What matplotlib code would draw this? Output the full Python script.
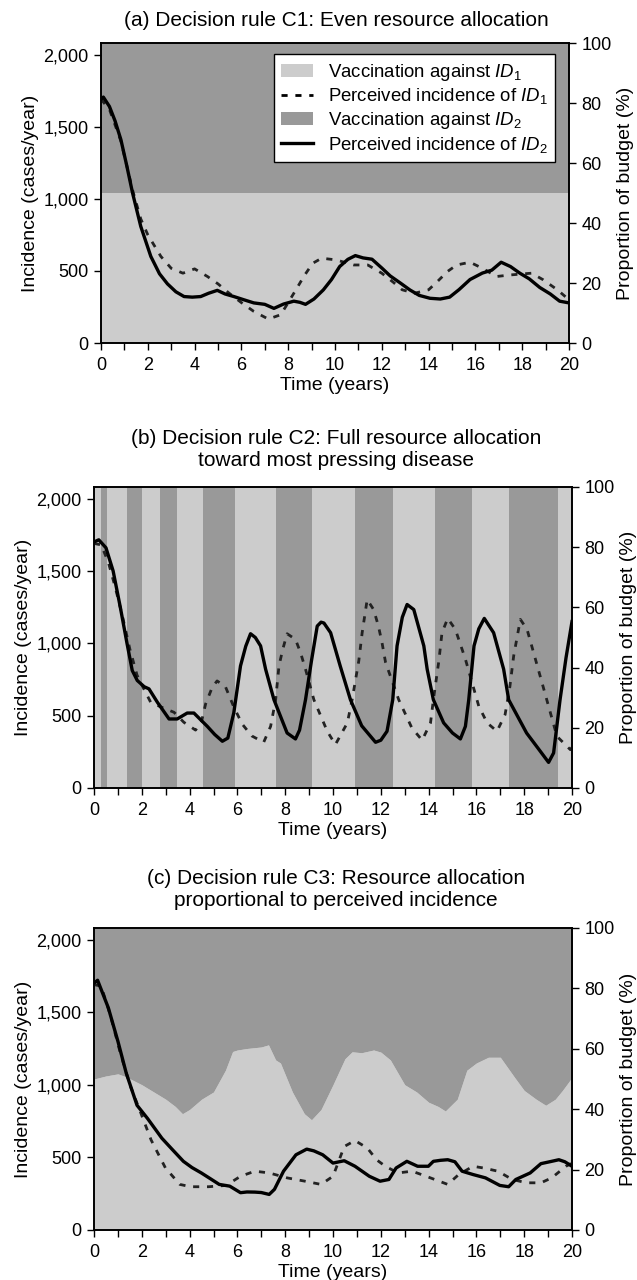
import matplotlib
matplotlib.use("Agg")
import matplotlib.pyplot as plt
from matplotlib.patches import Patch
from matplotlib.lines import Line2D
from matplotlib.ticker import FuncFormatter, MultipleLocator

plt.rcParams['font.family'] = ['Liberation Sans', 'DejaVu Sans']
plt.rcParams['mathtext.fontset'] = 'custom'
plt.rcParams['mathtext.rm'] = 'Liberation Sans'
plt.rcParams['mathtext.it'] = 'Liberation Sans:italic'

LIGHT = '#cccccc'
DARK = '#999999'

# ---------------- Panel (a) ----------------
a_t_id2 = [0, 0.1, 0.36, 0.6, 0.85, 1.1, 1.35, 1.7, 2.13, 2.5, 2.84, 3.2, 3.55, 3.9, 4.26, 4.6, 4.97,
           5.3, 5.68, 6.1, 6.53, 7.0, 7.39, 7.8, 8.24, 8.5, 8.74, 9.1, 9.5, 9.85, 10.2, 10.55, 10.87,
           11.2, 11.58, 12.0, 12.36, 12.8, 13.2, 13.6, 14.06, 14.5, 14.9, 15.3, 15.77, 16.3, 16.7,
           17.1, 17.5, 17.9, 18.3, 18.75, 19.2, 19.6, 20]
a_id2 = [1690, 1705, 1640, 1540, 1410, 1230, 1039, 808, 600, 480, 410, 355, 322, 318, 322, 345, 365,
         340, 322, 300, 278, 268, 240, 270, 290, 282, 268, 305, 368, 440, 530, 580, 606,
         590, 581, 520, 465, 415, 368, 330, 310, 305, 318, 370, 440, 485, 505,
         560, 530, 484, 445, 385, 340, 290, 278]
a_t_id1 = [0, 0.36, 0.85, 1.35, 1.7, 2.0, 2.56, 3.0, 3.5, 4.0, 4.55, 5.0, 5.47, 6.0, 6.53, 7.15, 7.68,
           8.0, 8.37, 8.7, 9.05, 9.43, 10.05, 10.8, 11.4, 12.0, 12.5, 12.87, 13.4, 14.0, 14.4, 14.8,
           15.2, 15.77, 16.3, 16.9, 17.5, 18.4, 18.9, 19.5, 20]
a_id1 = [1690, 1620, 1400, 1060, 860, 750, 600, 518, 484, 514, 461, 410, 346, 280, 219, 166, 196,
         280, 380, 470, 553, 588, 576, 541, 541, 484, 420, 369, 345, 369, 430, 495,
         541, 560, 518, 461, 472, 484, 438, 369, 300]
a_alloc_t = [0, 20]
a_alloc_id1 = [50, 50]   # % of budget to ID1

# ---------------- Panel (b) ----------------
b_t_id2 = [0, 0.2, 0.5, 0.8, 1.1, 1.38, 1.6, 1.81, 2.1, 2.3, 2.65, 3.14, 3.48, 3.9, 4.18, 4.74, 5.05,
           5.37, 5.6, 5.85, 6.13, 6.35, 6.55, 6.75, 6.97, 7.18, 7.53, 8.08, 8.43, 8.6, 8.85, 9.1,
           9.34, 9.5, 9.62, 9.9, 10.3, 10.73, 11.2, 11.78, 12.0, 12.26, 12.5, 12.68, 12.9, 13.1,
           13.38, 13.8, 13.94, 14.2, 14.63, 15.0, 15.33, 15.54, 15.68, 15.9, 16.1, 16.33, 16.72,
           17.14, 17.35, 18.1, 18.6, 19.02, 19.23, 19.5, 19.75, 20]
b_id2 = [1700, 1715, 1660, 1500, 1250, 1000, 812, 743, 700, 685, 593, 477, 477, 518, 518, 426, 370,
         323, 345, 520, 844, 980, 1066, 1040, 982, 821, 610, 380, 339, 400, 610, 880,
         1119, 1146, 1140, 1073, 844, 610, 430, 316, 330, 392, 610, 982, 1180, 1268,
         1233, 982, 821, 610, 450, 380, 339, 426, 610, 982, 1100, 1172, 1073,
         821, 610, 380, 270, 177, 242, 610, 900, 1150]
b_t_id1 = [0, 0.3, 0.6, 0.9, 1.2, 1.5, 1.8, 2.1, 2.37, 2.8, 3.35, 3.76, 4.25, 4.5, 4.67, 4.95, 5.15,
           5.5, 5.85, 6.2, 6.6, 7.1, 7.39, 7.6, 7.74, 7.9, 8.08, 8.43, 8.64, 8.85, 9.2, 9.76, 10.1,
           10.6, 10.8, 11.08, 11.22, 11.43, 11.7, 11.9, 12.05, 12.2, 12.75, 13.3, 13.73, 14.08,
           14.2, 14.43, 14.56, 14.8, 15.12, 15.54, 16.1, 16.45, 16.86, 17.2, 17.4, 17.56, 17.84,
           18.12, 18.47, 19.02, 19.37, 19.93, 20]
b_id1 = [1690, 1680, 1560, 1380, 1180, 960, 780, 680, 593, 560, 523, 454, 400, 460, 581, 697, 740,
         700, 560, 442, 360, 316, 426, 610, 844, 960, 1066, 1027, 936, 821, 610, 392, 300,
         450, 610, 879, 1073, 1302, 1233, 1119, 1005, 867, 610, 415, 330, 450,
         610, 879, 1073, 1172, 1096, 890, 565, 450, 392, 507, 700, 913, 1165,
         1096, 890, 565, 357, 265, 280]
# switching times of full allocation, and which disease receives the budget in each interval
b_switch = [0, 0.30, 0.55, 1.36, 2.01, 2.78, 3.48, 4.56, 5.90, 7.60, 9.11, 10.90, 12.50, 14.27,
            15.80, 17.37, 19.40, 20]
b_target = ['ID1', 'ID2', 'ID1', 'ID2', 'ID1', 'ID2', 'ID1', 'ID2', 'ID1', 'ID2', 'ID1', 'ID2',
            'ID1', 'ID2', 'ID1', 'ID2', 'ID1']

# ---------------- Panel (c) ----------------
c_t_id2 = [0, 0.15, 0.6, 1.0, 1.35, 1.8, 2.24, 2.84, 3.29, 3.74, 4.1, 4.49, 4.9, 5.24, 5.68, 6.13,
           6.4, 6.73, 7.0, 7.33, 7.55, 7.93, 8.45, 8.9, 9.2, 9.57, 10.0, 10.47, 10.92, 11.52, 11.97,
           12.34, 12.64, 13.09, 13.54, 13.99, 14.2, 14.5, 14.8, 15.1, 15.4, 15.86, 16.38, 16.98,
           17.35, 17.65, 18.25, 18.7, 19.15, 19.45, 19.7, 20]
c_id2 = [1700, 1720, 1530, 1300, 1080, 859, 768, 632, 552, 473, 430, 393, 350, 314, 302, 257,
         262, 261, 258, 245, 280, 405, 518, 557, 545, 518, 461, 477, 439, 370, 336,
         348, 427, 473, 439, 439, 473, 480, 484, 470, 405, 382, 359, 307,
         298, 348, 393, 457, 473, 484, 470, 439]
c_t_id1 = [0, 0.3, 0.7, 1.1, 1.5, 1.94, 2.39, 2.99, 3.59, 4.04, 4.79, 5.53, 6.13, 6.73, 7.33, 8.08,
           8.83, 9.5, 10.0, 10.47, 10.92, 11.44, 11.82, 12.19, 12.72, 13.31, 13.9, 14.8, 15.26,
           15.86, 16.3, 16.9, 17.5, 18.1, 18.7, 19.15, 19.75, 20]
c_id1 = [1690, 1680, 1470, 1220, 1000, 814, 620, 427, 314, 298, 298, 307, 370, 405, 393, 359,
         336, 314, 370, 575, 616, 564, 484, 439, 393, 405, 370, 314, 382,
         439, 427, 405, 348, 325, 325, 359, 439, 461]
c_alloc_t = [0, 0.5, 1.0, 1.35, 2.0, 2.5, 3.0, 3.4, 3.7, 4.0, 4.5, 5.0, 5.5, 5.8, 6.0, 6.4, 7.0,
             7.3, 7.6, 7.8, 8.3, 8.8, 9.1, 9.5, 10.0, 10.5, 10.8, 11.2, 11.7, 12.0, 12.4, 13.0,
             13.5, 14.0, 14.4, 14.7, 15.2, 15.6, 16.0, 16.5, 17.0, 17.6, 18.0, 18.5, 18.9, 19.3,
             19.6, 20]
c_alloc_id1 = [50.0, 51.0, 51.7, 50.7, 48.1, 45.7, 43.3, 40.9, 38.5, 39.9, 43.3, 45.7, 52.9, 59.1,
               59.6, 60.1, 60.6, 61.3, 56.3, 55.3, 45.7, 38.5, 36.5, 39.9, 48.1, 56.7, 59.0, 58.7,
               59.6, 58.9, 56.3, 48.1, 45.7, 42.3, 40.9, 39.4, 43.3, 52.9, 55.3, 57.2, 57.2, 50.5,
               46.2, 43.3, 41.3, 43.3, 46.2, 50.5]

titles = ['(a) Decision rule C1: Even resource allocation',
          '(b) Decision rule C2: Full resource allocation\ntoward most pressing disease',
          '(c) Decision rule C3: Resource allocation\nproportional to perceived incidence']

YMAX = 2080
FS_TICK = 13
FS_LAB = 14
FS_TITLE = 15

fig = plt.figure(figsize=(6.37, 12.8), dpi=100)
W, H = 637, 1280
rects = [(101, 569, 43, 343), (94, 572, 487, 788), (94, 572, 928, 1230)]


def make_axes(rect):
    l, r, t, b = rect
    ax2 = fig.add_axes([l / W, 1 - b / H, (r - l) / W, (b - t) / H])
    ax = ax2.twinx()
    ax.yaxis.tick_left()
    ax.yaxis.set_label_position('left')
    ax2.yaxis.tick_right()
    ax2.yaxis.set_label_position('right')
    ax2.set_xlim(0, 20)
    ax2.set_ylim(0, 100)
    ax.set_xlim(0, 20)
    ax.set_ylim(0, YMAX)
    ax.set_yticks([0, 500, 1000, 1500, 2000])
    ax.yaxis.set_major_formatter(FuncFormatter(lambda v, p: f'{int(v):,}'))
    ax2.set_yticks([0, 20, 40, 60, 80, 100])
    ax2.xaxis.set_major_locator(MultipleLocator(2))
    ax2.xaxis.set_minor_locator(MultipleLocator(1))
    for a in (ax, ax2):
        a.tick_params(axis='y', which='both', direction='out', length=5, width=1,
                      labelsize=FS_TICK, pad=4)
        a.tick_params(axis='x', which='both', direction='out', length=5, width=1,
                      labelsize=FS_TICK, pad=5)
        for s in a.spines.values():
            s.set_linewidth(1.2)
    ax.set_ylabel('Incidence (cases/year)', fontsize=FS_LAB, labelpad=3)
    ax2.set_ylabel('Proportion of budget (%)', fontsize=FS_LAB, labelpad=4)
    ax2.set_xlabel('Time (years)', fontsize=FS_LAB, labelpad=2)
    return ax, ax2


axes = [make_axes(r) for r in rects]

lw_solid = 2.4
lw_dash = 2.0
dash = (0, (2.2, 2.8))

# (a)
ax, ax2 = axes[0]
ax2.fill_between(a_alloc_t, 0, a_alloc_id1, color=LIGHT, lw=0)
ax2.fill_between(a_alloc_t, a_alloc_id1, 100, color=DARK, lw=0)
ax.plot(a_t_id1, a_id1, color='#222222', lw=lw_dash, linestyle=dash)
ax.plot(a_t_id2, a_id2, color='black', lw=lw_solid)
handles = [Patch(facecolor=LIGHT, edgecolor='none'),
           Line2D([], [], color='black', lw=lw_dash, linestyle=dash),
           Patch(facecolor=DARK, edgecolor='none'),
           Line2D([], [], color='black', lw=lw_solid)]
labels = [r'Vaccination against $ID_1$', r'Perceived incidence of $ID_1$',
          r'Vaccination against $ID_2$', r'Perceived incidence of $ID_2$']
leg = ax.legend(handles, labels, loc='upper right', bbox_to_anchor=(0.97, 0.963),
                borderaxespad=0, fontsize=13.4, frameon=True, fancybox=False,
                handlelength=1.7, handletextpad=0.8, labelspacing=0.2, borderpad=0.4)
leg.get_frame().set_edgecolor('black')
leg.get_frame().set_linewidth(1.0)
leg.get_frame().set_alpha(1)

# (b)
ax, ax2 = axes[1]
for i, tgt in enumerate(b_target):
    ax2.axvspan(b_switch[i], b_switch[i + 1], color=LIGHT if tgt == 'ID1' else DARK, lw=0)
ax.plot(b_t_id1, b_id1, color='#222222', lw=lw_dash, linestyle=dash)
ax.plot(b_t_id2, b_id2, color='black', lw=lw_solid)

# (c)
ax, ax2 = axes[2]
ax2.fill_between(c_alloc_t, 0, c_alloc_id1, color=LIGHT, lw=0)
ax2.fill_between(c_alloc_t, c_alloc_id1, 100, color=DARK, lw=0)
ax.plot(c_t_id1, c_id1, color='#222222', lw=lw_dash, linestyle=dash)
ax.plot(c_t_id2, c_id2, color='black', lw=lw_solid)

# titles
title_y = [20, 449, 890]
for ty, txt in zip(title_y, titles):
    fig.text((94 + 572) / 2 / W + 0.005, 1 - ty / H, txt, ha='center', va='center',
             fontsize=FS_TITLE, linespacing=1.2)

fig.savefig('out.png', dpi=100)
